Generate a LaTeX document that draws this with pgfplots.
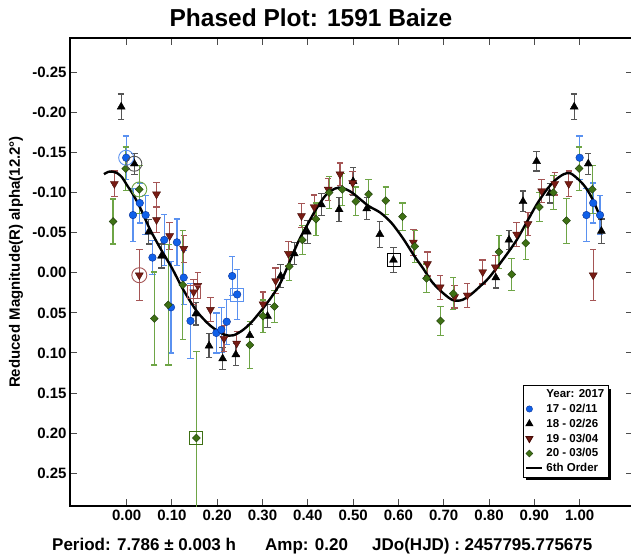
\documentclass[border=0pt]{standalone}
\usepackage{pgfplots}
\pgfplotsset{compat=1.18}
\usepackage{fontspec}
\setmainfont{Liberation Sans}
\usetikzlibrary{shadows}
\makeatletter
\tikzset{nopre/.code={\let\tikz@preactions\pgfutil@empty}}
\makeatother
\definecolor{bluem}{RGB}{16,96,232}
\definecolor{blued}{RGB}{10,50,150}
\definecolor{blueb}{RGB}{90,145,240}
\definecolor{redm}{RGB}{120,28,20}
\definecolor{redd}{RGB}{70,10,5}
\definecolor{redb}{RGB}{165,85,85}
\definecolor{greenm}{RGB}{62,112,20}
\definecolor{greend}{RGB}{30,60,10}
\definecolor{greenb}{RGB}{110,165,70}
\definecolor{blackb}{RGB}{85,85,85}
\begin{document}
\begin{tikzpicture}
\useasboundingbox (-70pt,-48pt) rectangle (561pt,506pt);
\begin{axis}[
  at={(0pt,0pt)}, anchor=south west,
  scale only axis, width=563pt, height=468pt,
  xmin=-0.125, xmax=1.1178, ymin=-0.2928, ymax=0.2908, y dir=reverse,
  xtick={0,0.1,0.2,0.3,0.4,0.5,0.6,0.7,0.8,0.9,1},
  ytick={-0.25,-0.2,-0.15,-0.1,-0.05,0,0.05,0.1,0.15,0.2,0.25},
  scaled ticks=false,
  tick align=inside, major tick length=7pt,
  tick style={line width=1pt, black!70},
  axis line style={line width=1.3pt},
  tick label style={font=\bfseries\fontsize{15}{17}\selectfont,
    /pgf/number format/fixed, /pgf/number format/fixed zerofill,
    /pgf/number format/precision=2, /pgf/number format/assume math mode=true},
  legend style={at={(0.8044,0.2585)}, anchor=north west, draw=black, line width=1pt,
    fill=white, font=\bfseries\fontsize{11.5}{13}\selectfont, inner sep=2pt,
    row sep=1pt, column sep=1pt,
    drop shadow={shadow xshift=3pt, shadow yshift=-3pt, fill=black, opacity=1}},
  legend cell align=left,
  every axis plot/.append style={forget plot},
]
% series 17 - 02/11 (blue circles)
\addplot[only marks, mark=*, mark size=3.8pt, mark options={fill=bluem, draw=blued, line width=0.4pt},
  error bars/.cd, y dir=both, y explicit,
  error bar style={line width=1.2pt, blueb}, error mark options={rotate=90, line width=1.2pt, blueb, mark size=3.2pt}]
  table[x index=0, y index=1, y error index=2] {
-0.001 -0.1435 0.027
0.014 -0.072 0.033
0.029 -0.087 0.025
0.042 -0.072 0.024
0.057 -0.019 0.021
0.083 -0.041 0.032
0.111 -0.038 0.029
0.126 0.006 0.034
0.098 0.043 0.057
0.141 0.060 0.047
0.198 0.075 0.025
0.209 0.071 0.028
0.221 0.061 0.028
0.233 0.004 0.024
0.244 0.027 0.031
1.000 -0.1435 0.027
1.015 -0.072 0.033
1.030 -0.087 0.025
1.045 -0.072 0.024
};
% series 18 - 02/26 (black triangles)
\addplot[only marks, mark=triangle*, mark size=4.6pt, mark options={fill=black, draw=black},
  error bars/.cd, y dir=both, y explicit,
  error bar style={line width=1.2pt, blackb}, error mark options={rotate=90, line width=1.2pt, blackb, mark size=3.2pt}]
  table[x index=0, y index=1, y error index=2] {
-0.012 -0.207 0.016
0.017 -0.136 0.013
0.049 -0.051 0.015
0.077 -0.021 0.015
0.153 0.051 0.014
0.182 0.091 0.015
0.212 0.107 0.014
0.241 0.102 0.014
0.272 0.078 0.014
0.311 0.054 0.014
0.340 0.004 0.014
0.370 -0.024 0.014
0.399 -0.051 0.014
0.430 -0.085 0.014
0.469 -0.079 0.015
0.500 -0.114 0.017
0.530 -0.080 0.014
0.559 -0.048 0.016
0.589 -0.016 0.016
0.815 0.006 0.013
0.844 -0.041 0.012
0.875 -0.089 0.013
0.905 -0.139 0.012
0.934 -0.099 0.012
0.988 -0.207 0.016
1.019 -0.136 0.013
1.048 -0.052 0.015
};
% series 19 - 03/04 (dark red down triangles)
\addplot[only marks, mark=triangle*, mark size=4.6pt, mark options={rotate=180, fill=redm, draw=redd},
  error bars/.cd, y dir=both, y explicit,
  error bar style={line width=1.2pt, redb}, error mark options={rotate=90, line width=1.2pt, redb, mark size=3.2pt}]
  table[x index=0, y index=1, y error index=2] {
-0.027 -0.111 0.016
0.028 0.003 0.032
0.066 -0.098 0.015
0.066 -0.066 0.016
0.095 -0.046 0.017
0.126 -0.030 0.017
0.148 0.024 0.016
0.157 0.016 0.016
0.185 0.046 0.015
0.215 0.082 0.016
0.243 0.088 0.015
0.301 0.039 0.015
0.329 0.010 0.016
0.357 -0.024 0.015
0.386 -0.071 0.015
0.414 -0.082 0.015
0.445 -0.104 0.014
0.471 -0.123 0.014
0.499 -0.112 0.014
0.633 -0.038 0.016
0.664 -0.011 0.015
0.692 0.018 0.015
0.724 0.030 0.014
0.752 0.028 0.015
0.786 -0.001 0.015
0.814 -0.007 0.015
0.861 -0.048 0.015
0.886 -0.061 0.014
0.916 -0.102 0.014
0.945 -0.111 0.014
0.976 -0.111 0.016
1.030 0.003 0.032
};
% series 20 - 03/05 (green diamonds)
\addplot[only marks, mark=square*, mark size=2.8pt, mark options={rotate=45, fill=greenm, draw=greend, line width=0.4pt},
  error bars/.cd, y dir=both, y explicit,
  error bar style={line width=1.2pt, greenb}, error mark options={rotate=90, line width=1.2pt, greenb, mark size=3.2pt}]
  table[x index=0, y index=1, y error index=2] {
-0.030 -0.064 0.028
-0.002 -0.130 0.027
0.028 -0.104 0.030
0.061 0.057 0.058
0.092 0.040 0.075
0.124 0.015 0.068
0.154 0.206 0.108
0.272 0.090 0.029
0.301 0.054 0.020
0.326 0.042 0.020
0.359 -0.008 0.018
0.388 -0.041 0.018
0.418 -0.067 0.020
0.447 -0.100 0.020
0.476 -0.104 0.020
0.506 -0.089 0.018
0.534 -0.098 0.018
0.572 -0.090 0.017
0.609 -0.070 0.017
0.636 -0.033 0.020
0.662 0.007 0.018
0.693 0.060 0.018
0.721 0.026 0.020
0.822 -0.026 0.021
0.850 0.002 0.020
0.881 -0.037 0.020
0.911 -0.082 0.018
0.942 -0.100 0.021
0.971 -0.065 0.028
0.999 -0.130 0.027
1.028 -0.104 0.030
};
% circled and boxed points
\addplot[only marks, mark=o, mark size=7.5pt, blueb, line width=0.9pt] coordinates {(-0.001,-0.1435)};
\addplot[only marks, mark=o, mark size=7.5pt, blackb, line width=0.9pt] coordinates {(0.017,-0.136)};
\addplot[only marks, mark=o, mark size=7.5pt, greenb, line width=0.9pt] coordinates {(0.028,-0.104)};
\addplot[only marks, mark=o, mark size=7.5pt, redb, line width=0.9pt] coordinates {(0.028,0.003)};
\addplot[only marks, mark=square, mark size=6.5pt, blueb, line width=0.9pt] coordinates {(0.244,0.027)};
\addplot[only marks, mark=square, mark size=6.5pt, redb, line width=0.9pt] coordinates {(0.148,0.024)};
\addplot[only marks, mark=square, mark size=6.5pt, black, line width=0.9pt] coordinates {(0.589,-0.016)};
\addplot[only marks, mark=square, mark size=6.5pt, greenm, line width=0.9pt] coordinates {(0.154,0.206)};
% 6th order fit
\addplot[black, line width=2.4pt, smooth, tension=0.5, no marks] coordinates {
(-0.050,-0.123) (-0.040,-0.126) (-0.030,-0.126) (-0.020,-0.124) (-0.010,-0.119)
(0.000,-0.110) (0.015,-0.097) (0.030,-0.081) (0.050,-0.056) (0.065,-0.040)
(0.080,-0.025) (0.100,-0.006) (0.125,0.021) (0.155,0.048) (0.185,0.066)
(0.215,0.077) (0.235,0.078) (0.255,0.072) (0.275,0.062) (0.300,0.045)
(0.320,0.030) (0.340,0.012) (0.360,-0.014) (0.380,-0.040) (0.400,-0.061)
(0.420,-0.081) (0.440,-0.097) (0.460,-0.105) (0.475,-0.106) (0.495,-0.101)
(0.515,-0.092) (0.535,-0.083) (0.560,-0.075) (0.585,-0.062) (0.610,-0.043)
(0.635,-0.021) (0.655,-0.005) (0.675,0.012) (0.700,0.026) (0.720,0.034)
(0.740,0.034) (0.760,0.027) (0.780,0.017) (0.800,0.006) (0.830,-0.016)
(0.860,-0.040) (0.885,-0.065) (0.905,-0.085) (0.925,-0.102) (0.945,-0.115)
(0.965,-0.123) (0.980,-0.124) (1.000,-0.115) (1.015,-0.105) (1.030,-0.090)
(1.048,-0.066)
};
% legend
\addlegendimage{empty legend}
\addlegendentry{Year: 2017}
\addlegendimage{legend image code/.code={\draw[nopre, fill=bluem, draw=blued, line width=0.4pt] (3pt,0pt) circle (3.2pt);}}
\addlegendentry{17 - 02/11}
\addlegendimage{legend image code/.code={\draw[nopre, fill=black, draw=black] plot[mark=triangle*, mark size=3.8pt] coordinates {(3pt,0pt)};}}
\addlegendentry{18 - 02/26}
\addlegendimage{legend image code/.code={\draw[nopre, fill=redm, draw=redd] plot[mark=triangle*, mark size=3.8pt, mark options={rotate=180}] coordinates {(3pt,0pt)};}}
\addlegendentry{19 - 03/04}
\addlegendimage{legend image code/.code={\draw[nopre, fill=greenm, draw=greend, line width=0.4pt] plot[mark=square*, mark size=2.5pt, mark options={rotate=45}] coordinates {(3pt,0pt)};}}
\addlegendentry{20 - 03/05}
\addlegendimage{legend image code/.code={\draw[nopre, black, line width=2pt] (0pt,0pt) -- (16pt,0pt);}}
\addlegendentry{6th Order}
\end{axis}
\node[font=\bfseries\fontsize{24.5}{28}\selectfont] at (241pt,488pt) {Phased Plot: 1591 Baize};
\node[rotate=90, font=\bfseries\fontsize{15}{17}\selectfont] at (-54pt,244pt) {Reduced Magnitude(R) alpha(12.2°)};
\node[anchor=base west, font=\bfseries\fontsize{17}{20}\selectfont, inner sep=0pt] at (-18pt,-44pt) {Period: 7.786 ± 0.003 h};
\node[anchor=base west, font=\bfseries\fontsize{17}{20}\selectfont, inner sep=0pt] at (195pt,-44pt) {Amp: 0.20};
\node[anchor=base west, font=\bfseries\fontsize{17}{20}\selectfont, inner sep=0pt] at (302pt,-44pt) {JDo(HJD) : 2457795.775675};
\end{tikzpicture}
\end{document}
